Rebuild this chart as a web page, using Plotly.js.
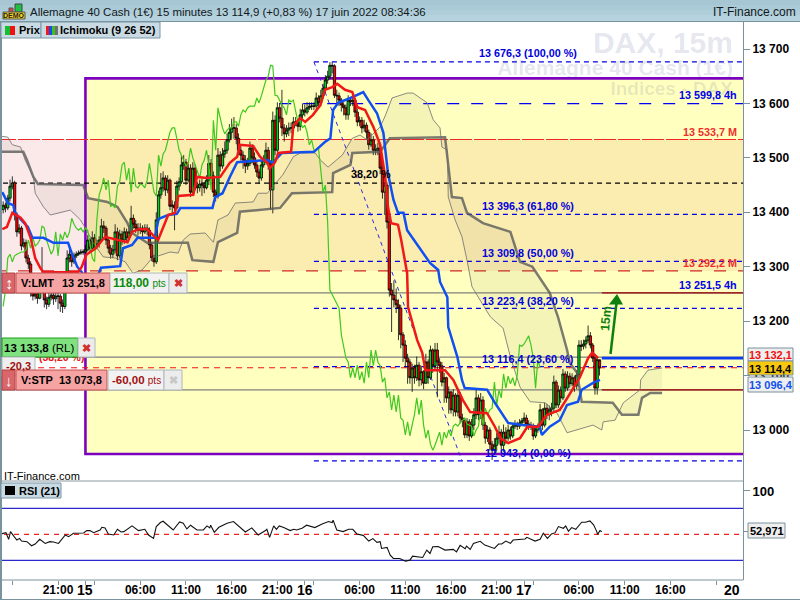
<!DOCTYPE html>
<html><head><meta charset="utf-8">
<script src="https://cdn.plot.ly/plotly-3.0.1.min.js"></script>
<style>html,body{margin:0;padding:0;background:#fff}</style></head>
<body><div id="c" style="width:800px;height:600px"></div>
<script>
const closes=[13413,13408,13426,13448,13454,13395,13364,13371,13338,13344,
13316,13305,13254,13246,13250,13242,13257,13268,13239,13231,
13244,13248,13241,13246,13246,13233,13227,13257,13316,13323,
13309,13320,13323,13325,13327,13327,13331,13349,13334,13353,
13338,13342,13349,13375,13371,13349,13334,13323,13331,13364,
13320,13360,13349,13364,13353,13364,13389,13378,13371,13367,
13371,13364,13371,13367,13340,13316,13309,13386,13432,13445,
13463,13441,13459,13411,13413,13408,13448,13456,13487,13492,
13459,13481,13437,13481,13448,13445,13452,13450,13445,13459,
13490,13467,13437,13430,13505,13485,13507,13514,13533,13547,
13555,13555,13536,13514,13505,13496,13485,13490,13518,13500,
13487,13474,13463,13487,13496,13514,13487,13441,13569,13514,
13592,13573,13555,13544,13551,13555,13555,13566,13566,13558,
13579,13588,13584,13592,13595,13595,13595,13610,13601,13614,
13628,13643,13650,13670,13669,13615,13614,13606,13597,13592,
13579,13606,13603,13606,13584,13566,13569,13555,13560,13547,
13524,13533,13514,13514,13518,13481,13437,13450,13382,13257,
13248,13239,13230,13224,13175,13156,13132,13125,13096,13114,
13096,13119,13092,13107,13086,13125,13096,13147,13118,13147,
13125,13118,13088,13096,13059,13070,13037,13064,13033,13064,
13022,13018,12991,13015,12989,13009,13028,13059,13028,13055,
13009,12985,13000,12974,12963,12972,12985,12996,12972,12996,
12985,13000,12989,13007,13011,13007,13013,13017,13022,13011,
13009,13007,12989,13000,13007,13037,13009,13040,13028,13037,
13040,13088,13046,13073,13059,13103,13077,13099,13085,13096,
13081,13101,13156,13154,13158,13165,13173,13156,13132,13077,
13129,13114];
const opens=[13405,13413,13408,13426,13448,13454,13395,13364,13371,13338,
13344,13316,13305,13254,13246,13250,13242,13257,13268,13239,
13231,13244,13248,13241,13246,13246,13233,13227,13257,13316,
13323,13309,13320,13323,13325,13327,13327,13331,13349,13334,
13353,13338,13342,13349,13375,13371,13349,13334,13323,13331,
13364,13320,13360,13349,13364,13353,13364,13389,13378,13371,
13367,13371,13364,13371,13367,13340,13316,13309,13386,13432,
13445,13463,13441,13459,13411,13413,13408,13448,13456,13487,
13492,13459,13481,13437,13481,13448,13445,13452,13450,13445,
13459,13490,13467,13437,13430,13505,13485,13507,13514,13533,
13547,13555,13555,13536,13514,13505,13496,13485,13490,13518,
13500,13487,13474,13463,13487,13496,13514,13487,13441,13569,
13514,13592,13573,13555,13544,13551,13555,13555,13566,13566,
13558,13579,13588,13584,13592,13595,13595,13595,13610,13601,
13614,13628,13643,13650,13670,13669,13615,13614,13606,13597,
13592,13579,13606,13603,13606,13584,13566,13569,13555,13560,
13547,13524,13533,13514,13514,13518,13481,13437,13450,13382,
13257,13248,13239,13230,13224,13175,13156,13132,13125,13096,
13114,13096,13119,13092,13107,13086,13125,13096,13147,13118,
13147,13125,13118,13088,13096,13059,13070,13037,13064,13033,
13064,13022,13018,12991,13015,12989,13009,13028,13059,13028,
13055,13009,12985,13000,12974,12963,12972,12985,12996,12972,
12996,12985,13000,12989,13007,13011,13007,13013,13017,13022,
13011,13009,13007,12989,13000,13007,13037,13009,13040,13028,
13037,13040,13088,13046,13073,13059,13103,13077,13099,13085,
13096,13081,13101,13156,13154,13158,13165,13173,13156,13132,
13077,13129];
const highs=[13420,13418,13432,13460,13466,13458,13400,13378,13375,13352,
13350,13322,13310,13258,13258,13255,13262,13336,13272,13245,
13252,13256,13254,13252,13254,13250,13240,13265,13330,13335,
13328,13326,13328,13330,13332,13332,13340,13358,13352,13365,
13360,13350,13356,13388,13384,13375,13352,13340,13340,13378,
13372,13368,13366,13372,13370,13376,13412,13396,13386,13380,
13380,13376,13378,13378,13372,13345,13322,13400,13440,13472,
13475,13468,13468,13462,13422,13420,13458,13464,13505,13505,
13498,13490,13488,13492,13488,13456,13460,13462,13456,13468,
13505,13498,13475,13442,13518,13512,13518,13530,13545,13562,
13572,13575,13562,13545,13522,13512,13505,13500,13530,13525,
13510,13495,13480,13495,13505,13528,13520,13495,13585,13578,
13602,13600,13625,13562,13560,13565,13565,13575,13575,13570,
13590,13600,13598,13602,13602,13602,13602,13620,13615,13625,
13636,13652,13660,13676,13676,13672,13625,13620,13610,13602,
13598,13615,13612,13615,13610,13590,13576,13575,13570,13565,
13552,13545,13540,13525,13528,13525,13490,13470,13455,13390,
13270,13275,13260,13240,13230,13180,13165,13140,13130,13122,
13120,13135,13125,13118,13110,13140,13130,13155,13150,13160,
13160,13132,13125,13105,13098,13080,13072,13075,13068,13075,
13070,13030,13022,13022,13020,13020,13040,13075,13065,13068,
13062,13015,13008,13005,12980,12985,12995,13008,13002,13010,
13005,13010,13006,13012,13018,13015,13020,13022,13032,13028,
13018,13015,13012,13005,13012,13048,13040,13050,13048,13045,
13050,13100,13092,13082,13080,13112,13108,13108,13105,13104,
13100,13110,13165,13165,13166,13172,13192,13180,13160,13140,
13135,13126];
const lows=[13398,13400,13404,13420,13442,13385,13355,13360,13330,13335,
13308,13296,13245,13238,13240,13232,13240,13255,13225,13222,
13226,13238,13230,13235,13222,13217,13215,13222,13255,13308,
13300,13305,13316,13320,13322,13322,13320,13328,13325,13328,
13330,13332,13335,13345,13362,13340,13325,13315,13316,13325,
13312,13315,13340,13342,13345,13350,13360,13370,13362,13358,
13360,13355,13360,13358,13332,13310,13300,13305,13380,13425,
13438,13430,13435,13404,13398,13367,13405,13440,13452,13478,
13450,13455,13428,13432,13440,13435,13438,13430,13435,13442,
13450,13458,13428,13420,13425,13475,13480,13500,13508,13528,
13535,13535,13525,13505,13495,13480,13472,13478,13485,13490,
13480,13465,13452,13458,13482,13490,13478,13405,13398,13505,
13510,13565,13540,13530,13538,13540,13545,13550,13558,13548,
13550,13572,13576,13580,13588,13588,13588,13590,13595,13595,
13608,13620,13636,13645,13655,13610,13600,13595,13585,13578,
13570,13570,13595,13595,13575,13558,13558,13545,13548,13535,
13515,13520,13505,13505,13505,13470,13425,13395,13370,13245,
13180,13225,13215,13165,13150,13125,13115,13085,13085,13070,
13085,13090,13080,13082,13075,13085,13085,13092,13105,13110,
13060,13105,13080,13050,13050,13030,13030,13025,13025,13025,
13012,13005,12985,12985,12980,12985,13000,13020,13018,13020,
13000,12975,12978,12962,12945,12955,12962,12975,12962,12960,
12975,12980,12982,12985,13002,13000,13002,13008,13012,13000,
13000,13000,12982,12985,12995,13000,13000,13005,13020,13018,
13025,13035,13040,13040,13050,13055,13070,13072,13078,13080,
13070,13075,13095,13145,13148,13150,13160,13150,13125,13065,
13065,13100];
const kijunT=[14.9,15.5,16.1,16.3,17.2,17.7,18.2,19.4,20.5,22.1,22.5,23.1,23.6,24,25.4,25.7,27.8,28.1,29.1,29.7,31.6,32,33.05,34,34.4,37.9,38.2,39,39.8,40.6,43.9,44.5,45.5,49,50.2,50.8,51.1,51.65,53,54.4,54.95,55.9,56.6,57.1,57.7,58.2,58.8,59.2,61.7,62.6,62.8,63.6,63.7,64.7,65.2,65.5,67.95,68.8,70.25,71.8,73.7,73.95,74.8,75.9,76.7,77.9,78.3,79.5,80.3];
const kijunP=[13437,13417,13413,13399,13382,13373,13353,13353,13344,13344,13325,13300,13290,13277,13285,13298,13301,13334,13340,13353,13353,13388,13395,13397,13408,13408,13428,13435,13465,13492,13496,13491,13509,13511,13529,13536,13588,13601,13610,13621,13606,13582,13546,13472,13423,13399,13399,13367,13307,13294,13272,13244,13189,13134,13092,13077,13074,13050,13013,13009,13006,12991,13006,13018,13046,13052,13074,13086,13092];
const tenkanT=[14.9,15.4,16,16.9,17.4,18,18.3,18.5,19.05,19.4,23.2,23.6,24.1,25.1,26.15,27.25,28.6,29.1,29.8,30.75,31.6,31.95,33.05,33.8,34.15,35.8,36.2,37.3,38.75,39.8,40.6,40.9,42.35,43.1,43.9,44.2,44.75,45.1,46.5,46.75,47.5,48.05,48.9,49.7,50.2,51,51.55,52.4,53.2,53.75,54.6,55.5,56.25,56.8,57.1,57.45,58.2,58.55,59.2,59.3,60.3,60.85,61.2,63.35,64.25,65.3,66.1,67.95,68.8,69.4,70.25,71.55,72.35,73.55,74.5,75.9,76.8,78.1,79,79.45,80.1];
const tenkanP=[13369,13373,13399,13390,13380,13353,13331,13316,13298,13290,13290,13300,13322,13334,13355,13351,13345,13364,13369,13369,13355,13349,13395,13399,13430,13432,13465,13463,13465,13491,13502,13524,13522,13502,13491,13481,13492,13509,13511,13560,13573,13566,13579,13597,13625,13630,13636,13625,13621,13593,13588,13557,13524,13465,13410,13380,13377,13349,13288,13226,13165,13142,13110,13110,13092,13055,13033,13031,13006,12985,12976,12985,13006,13006,13028,13037,13061,13097,13132,13142,13132];
const senkouBT=[14.7,17.2,17.6,18.3,18.8,23.75,24.3,26.4,27.5,28.6,29.1,30.75,35.2,35.7,38,38.5,40.6,40.9,45.3,46.6,51,51.1,53,53.2,56.25,57.3,63.35,64.1,65.2,65.75,67.5,70.5,71.55,72.9,74.8,75.7,76.7,77,77.8,78.3,81.7,82.7,84.5,84.9,85.8,87.1];
const senkouBP=[13511,13511,13496,13465,13452,13450,13426,13419,13410,13380,13362,13344,13344,13312,13309,13345,13362,13401,13408,13435,13437,13472,13487,13509,13511,13536,13538,13428,13426,13399,13380,13364,13309,13300,13252,13208,13147,13123,13105,13052,13050,13028,13028,13059,13068,13068];
const senkouAT=[14.7,15.5,16,16.9,17.4,18.3,18.5,19.4,20.15,21.6,22.35,23.45,24,24.85,25.95,27.25,28.35,29.2,30.2,31.3,33.25,34.15,34.7,35.45,37.1,38,38.5,39.6,40.4,42.35,42.9,43.9,45.6,46.75,47.5,49.15,49.7,50.55,52.1,53.2,54.05,54.8,56.25,56.8,57.55,59.2,59.85,61.4,62.05,62.8,63,63.6,63.7,64.45,65.2,65.75,66.3,68.3,69.7,70.5,71.55,72.65,74.3,75.6,76.7,79.55,80.5,80.65,81.95,82.85,84.7,84.75,85.55,87.1];
const senkouAP=[13540,13538,13524,13520,13496,13465,13435,13410,13395,13401,13404,13386,13371,13344,13318,13316,13309,13288,13294,13316,13327,13325,13349,13360,13362,13345,13386,13395,13417,13419,13435,13435,13469,13502,13509,13509,13496,13483,13505,13536,13542,13533,13557,13577,13610,13619,13619,13601,13570,13555,13520,13514,13428,13386,13355,13312,13263,13208,13187,13134,13079,13052,13050,13031,12995,13009,13000,13015,13018,13050,13074,13092,13110,13114];
const rsiT=[14.7,15,15.3,15.6,15.8,16.2,16.5,16.8,17,17.6,18.1,18.5,19,19.6,20.1,20.5,21.05,21.8,22.15,22.7,23.8,24.15,24.5,24.9,25.6,25.8,26.15,26.5,27.1,27.5,27.9,28.2,29.1,29.8,30.5,30.9,31.45,31.75,32.2,32.5,33.1,33.6,34.3,34.7,35.1,35.5,36.2,36.9,37.3,37.6,37.7,38.1,38.6,39.5,40.2,40.75,41.5,42.2,42.9,43.7,43.85,44.15,44.6,44.9,45.2,45.7,46.4,46.8,47.1,47.7,48.2,49.1,49.9,50.6,51,51.1,51.5,52.2,52.8,53.25,53.7,54.4,55,55.45,55.9,56.25,56.4,57,57.35,57.7,58.4,59,59.5,59.8,60.9,61.35,61.7,62,62.6,63.35,64.25,64.6,65,65.55,65.7,66.1,66.45,67.2,67.7,68.75,69.2,69.55,70,70.5,70.8,72.1,72.3,73.2,73.75,74.1,74.55,75,75.4,75.75,76.3,76.55,76.85,77.2,77.65,78.3,78.7,79.2,79.6,79.9,80.05,80.3,80.5];
const rsiV=[50.4,51.2,51.9,44.2,53.1,47.3,43.4,45.3,42.2,41.5,36.8,38.8,44.2,39.5,41.5,41.1,39.5,49.2,47.3,51.2,51.6,54.3,54.3,51.9,55,58.1,57.4,50.4,49.2,55.8,52.7,53.1,59.7,54.3,55.8,49.2,45.3,58.9,63.6,65.1,59.7,55,64.3,62.8,56.2,60.5,55,55,59.7,57.4,60.5,52.3,58.1,62.8,64.7,59.7,52.7,57.4,49.2,54.3,55.8,46.5,59.7,55.8,59.7,57.8,54.3,55.8,55,57,60.5,57.8,62,64.7,63.6,66.3,55,53.1,55.8,55.8,50.4,48.8,42.2,45,40.7,41.5,33.7,34.9,26,22.1,22.1,19,20.2,24.8,23.3,31.8,27.9,35.7,36,31.8,32.6,29.8,37.2,33.3,36.4,32.6,39.5,41.9,37.6,33.7,38.8,38.8,42.2,39.5,43.4,44.6,46.5,42.2,44.2,51.2,45.3,50.4,51.9,58.9,57,59.7,53.5,57.8,55.8,64,64,65.5,60.9,54.3,50,54.3,52.97];
const rsiLevels=[80,50,20];
const fibPrices=[13676.3,13396.3,13309.8,13223.4,13116.4,12943.4];
const fibLabels=["13 676,3 (100,00 %)","13 396,3 (61,80 %)","13 309,8 (50,00 %)","13 223,4 (38,20 %)","13 116,4 (23,60 %)","12 943,4 (0,00 %)"];
const priceTicks=[13000,13100,13200,13300,13400,13500,13600,13700];
const priceTickText=["13 000","13 100","13 200","13 300","13 400","13 500","13 600","13 700"];
const timeTicks=[16,21,24,25,30,35,40,45,48,49,54,59,64,69,72,73,78,83,88,93];
const timeText=["","21:00","","","06:00","11:00","16:00","21:00","","","06:00","11:00","16:00","21:00","","","06:00","11:00","16:00",""];
const dayLabels=["15","16","17","20"];
const dayTimes=[24,48,72,94.8];
const lvlM1=13533.7, lvlM2=13292.2, lvlBlack=13453.7, lvl4h=13599.8, lvlPrice=13114.4;
const lvlLimit=13251.8, lvlRL=13133.8, lvlStop=13073.8, lvlBlue=13132.1;
const boxTop=13646, boxBottom=12956, boxStart=24, endT=96;

const times=closes.map((_,i)=>15+i*0.25);
const chikouT=times.slice(0,closes.length-26), chikouP=closes.slice(26);
const FONT='"Liberation Sans",Arial,sans-serif';
const shapes=[], ann=[];
const X=p=>p/800, Y=p=>1-p/600;
function rect(x0,y0,x1,y1,fill,line,w){shapes.push({type:'rect',xref:'paper',yref:'paper',x0:X(x0),x1:X(x1),y0:Y(y1),y1:Y(y0),fillcolor:fill,line:{color:line||fill,width:line?(w||1):0},layer:'above'});}
function seg(x0,y0,x1,y1,c,w){shapes.push({type:'line',xref:'paper',yref:'paper',x0:X(x0),x1:X(x1),y0:Y(y0),y1:Y(y1),line:{color:c,width:w||1},layer:'above'});}
function txt(x,y,t,o){o=o||{};ann.push({xref:'paper',yref:'paper',x:X(x),y:Y(y),text:o.bold===false?t:'<b>'+t+'</b>',showarrow:false,xanchor:o.a||'center',yanchor:'middle',font:{family:FONT,size:o.s||11,color:o.c||'#000'},textangle:o.rot||0,borderpad:0});}
function hl(p,t0,t1,c,dash,w){shapes.push({type:'line',xref:'x',yref:'y',x0:t0,x1:t1,y0:p,y1:p,line:{color:c,width:w||1,dash:dash||'solid'},layer:'below'});}

// zones
shapes.push({type:'rect',xref:'x',yref:'y',x0:14,x1:boxStart,y0:lvlM2,y1:lvlM1,fillcolor:'#FBE9E9',line:{width:0},layer:'below'});
shapes.push({type:'rect',xref:'x',yref:'y',x0:boxStart,x1:endT+2,y0:boxBottom,y1:boxTop,fillcolor:'#FFFFC0',line:{color:'#7B00C0',width:2.6},layer:'below'});
shapes.push({type:'rect',xref:'x',yref:'y',x0:boxStart+0.2,x1:endT,y0:lvlM2,y1:lvlM1,fillcolor:'#FBECB0',line:{width:0},layer:'below'});
// levels
hl(lvlM1,14,endT,'#F02828','22px,2px',1.2);
hl(lvlM2,14,endT,'#D02828','12px,12px',1.2);
hl(lvlBlack,14,endT,'#000','5px,4px',1.2);
hl(lvl4h,45.2,endT,'#0000FF','12px,12px',1.3);
fibPrices.forEach(p=>hl(p,49,endT,'#0000E8','5px,4px',1.3));
hl(lvlPrice,14,endT,'#F01010','6px,5px',1.2);
hl(lvlLimit,14,endT,'#808080','solid',1.2);hl(lvlRL,14,endT,'#808080','solid',1.2);hl(lvlStop,14,endT,'#808080','solid',1.2);
hl(lvlLimit,80.5,endT,'#A00000','solid',1.3);hl(lvlStop,80.5,endT,'#A00000','solid',1.3);hl(lvlBlue,80.5,endT,'#0A3CF0','solid',2.6);
shapes.push({type:'line',xref:'x',yref:'y',x0:49,x1:65.2,y0:fibPrices[0],y1:fibPrices[5],line:{color:'#2A2AE0',width:1,dash:'4px,4px'},layer:'below'});
rsiLevels.forEach((v,i)=>shapes.push({type:'line',xref:'x',yref:'y2',x0:14,x1:endT,y0:v,y1:v,line:{color:i==1?'#F02020':'#2A2ACC',width:1.2,dash:i==1?'5px,5px':'solid'},layer:'below'}));

// chrome
[['#A6C6D4',0,5],['#ABCAD7',5,10],['#B0CEDA',10,15],['#B6D2DE',15,21]].forEach(b=>rect(0,b[1],800,b[2],b[0]));
seg(0,21.5,800,21.5,'#7A929C');
seg(1,21,1,600,'#7A929C',2);
seg(743.5,21,743.5,580,'#7A929C');
seg(0,481,743,481,'#8A9AA2');
seg(0,580,743,580,'#7A929C');
seg(0,599.5,800,599.5,'#7A929C');
rect(9,8,13,12,'#E04040','#555');rect(15,4,22,12,'#20C040','#444');rect(3,12,25,19,'#F5D020','#555');
txt(14,15.7,'DEMO',{s:7,c:'#222'});
txt(29,12,'Allemagne 40 Cash (1€) 15 minutes 13 114,9 (+0,83 %) 17 juin 2022 08:34:36',{a:'left',s:11.45,bold:false,c:'#101820'});
txt(797,12,'IT-Finance.com',{a:'right',s:12,bold:false,c:'#101820'});
rect(1,22,41,38,'#C9DAE2','#7A98A8');rect(5,26,10,35,'#10C030');rect(10,26,15,35,'#F01010');
txt(18,30.5,'Prix',{a:'left',s:11});
rect(41,22,160,38,'#C9DAE2','#7A98A8');rect(46,26,49,35,'#F01818');rect(49,26,52,35,'#1050F0');rect(52,26,55,35,'#40C020');rect(55,26,58,35,'#707070');
txt(59,30.5,'Ichimoku (9 26 52)',{a:'left',s:11});
rect(1,483,61,498,'#C9DAE2','#7A98A8');rect(5,486,15,495,'#000');
txt(18,490.5,'RSI (21)',{a:'left',s:11});
txt(3,475.5,'IT-Finance.com',{a:'left',s:11,bold:false});

// order tickets
rect(2,273,15,293,'#D9666B','#B84040');txt(8.5,283,'↕',{s:16,c:'#fff'});
rect(16,273,110,293,'#F5A3A3','#C85050');txt(20,283,'V:LMT',{a:'left',s:11});txt(106,283,'13 251,8',{a:'right',s:11});
rect(110,273,169,293,'#F2F2F2','#B0B8BC');txt(139,283,'<span style="color:#0A8A0A">118,00</span> <span style="font-weight:normal;color:#0A8A0A;font-size:10px">pts</span>',{s:12});
rect(169,273,187,293,'#ECECEC','#B0B8BC');txt(178,283,'✖',{s:11,c:'#D03030'});
rect(2,338,78,357,'#7FE27F','#18A018');txt(39,347.5,'13 133,8 <span style="font-weight:normal">(RL)</span>',{s:11.5});
rect(78,338,95,357,'#ECECEC','#B0B8BC');txt(86.5,347.5,'✖',{s:11,c:'#D03030'});
rect(2,357,35,376,'#EEEEEE','#B0B8BC');txt(18,366,'-20,3',{s:11,c:'#A01010'});
rect(2,370,15,390,'#D9666B','#B84040');txt(8.5,380,'↓',{s:15,c:'#fff'});
rect(16,370,107,390,'#F5A3A3','#C85050');txt(20,380,'V:STP',{a:'left',s:11});txt(103,380,'13 073,8',{a:'right',s:11});
rect(108,370,164,390,'#F2F2F2','#B0B8BC');txt(136,380,'<span style="color:#A01010">-60,00</span> <span style="font-weight:normal;color:#A01010;font-size:10px">pts</span>',{s:11.5});
rect(164,370,182,390,'#ECECEC','#B0B8BC');txt(173,380,'✖',{s:11,c:'#C8C8C8'});

// fib & level labels
const fibY=[53,206,253,301,359,453];
fibLabels.forEach((t,i)=>txt(528,fibY[i],t,{s:10.8,c:'#0000DD'}));
txt(738,95,'13 599,8 4h',{a:'right',s:10.8,c:'#0000EE'});
txt(738,132,'13 533,7 M',{a:'right',s:10.8,c:'#EE2E2E'});
txt(738,263,'13 292,2 M',{a:'right',s:10.8,c:'#EE2E2E'});
txt(738,285,'13 251,5 4h',{a:'right',s:10.8,c:'#0000EE'});
txt(371,174,'38,20 %',{s:10.8});
// right value boxes
rect(748,348,793,361,'#EEEEEE','#7A929C');txt(770.5,355,'13 132,1',{s:11,c:'#F01010'});
rect(748,361,793,375,'#F8C810','#7A929C');txt(770.5,368.5,'13 114,4',{s:11});
rect(748,377,793,392,'#EEEEEE','#7A929C');txt(770.5,385,'13 096,4',{s:11,c:'#1050F0'});
rect(748,523,785,538,'#EEEEEE','#7A929C');txt(766.5,531,'52,971',{s:11});
// arrow
seg(610.5,354,616.5,303,'#0F7F0F',2.5);
shapes.push({type:'path',xref:'paper',yref:'paper',path:`M ${X(609)} ${Y(304.5)} L ${X(623)} ${Y(304.5)} L ${X(617)} ${Y(294)} Z`,fillcolor:'#0F7F0F',line:{width:0},layer:'above'});
txt(606,319,'15m',{s:12.5,c:'#0F7F0F',rot:-85});
// day labels under axis
dayLabels.forEach((d,i)=>ann.push({xref:'x',yref:'paper',x:dayTimes[i],y:Y(590),text:'<b>'+d+'</b>',showarrow:false,xanchor:'center',yanchor:'middle',font:{family:FONT,size:14,color:'#000'}}));

const wm='rgba(60,70,130,0.15)', wmT=94.85;
const traces=[
{type:'scatter',mode:'text',x:[wmT],y:[13707],text:['DAX, 15m'],textposition:'middle left',textfont:{family:FONT,size:30,color:wm,weight:700},hoverinfo:'skip',showlegend:false},
{type:'scatter',mode:'text',x:[wmT],y:[13661],text:['Allemagne 40 Cash (1€)'],textposition:'middle left',textfont:{family:FONT,size:21,color:wm,weight:700},hoverinfo:'skip',showlegend:false},
{type:'scatter',mode:'text',x:[wmT],y:[13625],text:['Indices - DAX'],textposition:'middle left',textfont:{family:FONT,size:19,color:'rgba(60,70,130,0.12)',weight:700},hoverinfo:'skip',showlegend:false},
{type:'scatter',mode:'text',x:[21.4],y:[13132],text:['(38,20 %)'],textposition:'middle center',textfont:{family:FONT,size:10.5,color:'#E02020',weight:700},hoverinfo:'skip',showlegend:false},
{type:'scatter',mode:'lines',x:senkouBT,y:senkouBP,line:{color:'rgba(90,90,90,0.8)',width:2.5},hoverinfo:'skip',showlegend:false},
{type:'scatter',mode:'lines',x:senkouAT,y:senkouAP,line:{color:'rgba(110,110,110,0.8)',width:1},fill:'tonexty',fillcolor:'rgba(120,110,80,0.08)',hoverinfo:'skip',showlegend:false},
{type:'scatter',mode:'lines',x:chikouT,y:chikouP,line:{color:'#40C820',width:1.2},hoverinfo:'skip',showlegend:false},
{type:'candlestick',x:times,open:opens,high:highs,low:lows,close:closes,
 increasing:{line:{color:'#000',width:0.8},fillcolor:'#00D020'},decreasing:{line:{color:'#000',width:0.8},fillcolor:'#FF0000'},whiskerwidth:0,hoverinfo:'skip',showlegend:false},
{type:'scatter',mode:'lines',x:kijunT,y:kijunP,line:{color:'#1050F0',width:2.5},hoverinfo:'skip',showlegend:false},
{type:'scatter',mode:'lines',x:tenkanT,y:tenkanP,line:{color:'#F01818',width:2.5},hoverinfo:'skip',showlegend:false},
{type:'scatter',mode:'lines',x:rsiT,y:rsiV,yaxis:'y2',line:{color:'#111',width:1.1},hoverinfo:'skip',showlegend:false}
];
const layout={width:800,height:600,margin:{l:0,r:0,t:0,b:0,pad:0},paper_bgcolor:'#fff',plot_bgcolor:'#fff',showlegend:false,boxgap:0,boxgroupgap:0,
 font:{family:FONT},shapes:shapes,annotations:ann,
 xaxis:{domain:[2/800,743/800],range:[14.87,95.95],anchor:'y2',rangeslider:{visible:false},showgrid:false,zeroline:false,showline:false,
  tickmode:'array',tickvals:timeTicks,ticktext:timeText.map(s=>s?'<b>'+s+'</b>':''),ticks:'outside',ticklen:4,tickcolor:'#7A929C',tickfont:{family:FONT,size:12,color:'#000'},tickangle:0,ticklabelstandoff:-5},
 yaxis:{domain:[119/600,578/600],range:[12906.3,13749.6],anchor:'x',side:'right',showgrid:false,zeroline:false,showline:false,
  tickmode:'array',tickvals:priceTicks,ticktext:priceTickText.map(s=>'<b>'+s+'</b>'),ticks:'outside',ticklen:6,tickcolor:'#7A929C',tickfont:{family:FONT,size:12,color:'#000'}},
 yaxis2:{domain:[20/600,119/600],range:[-2.7,111.5],anchor:'x',side:'right',showgrid:false,zeroline:false,showline:false,
  tickmode:'array',tickvals:[100,52.971],ticktext:['<b>100</b>',''],ticks:'outside',ticklen:6,tickcolor:'#7A929C',tickfont:{family:FONT,size:13,color:'#000'}}
};
Plotly.newPlot('c',traces,layout,{staticPlot:true,displayModeBar:false});
</script></body></html>
